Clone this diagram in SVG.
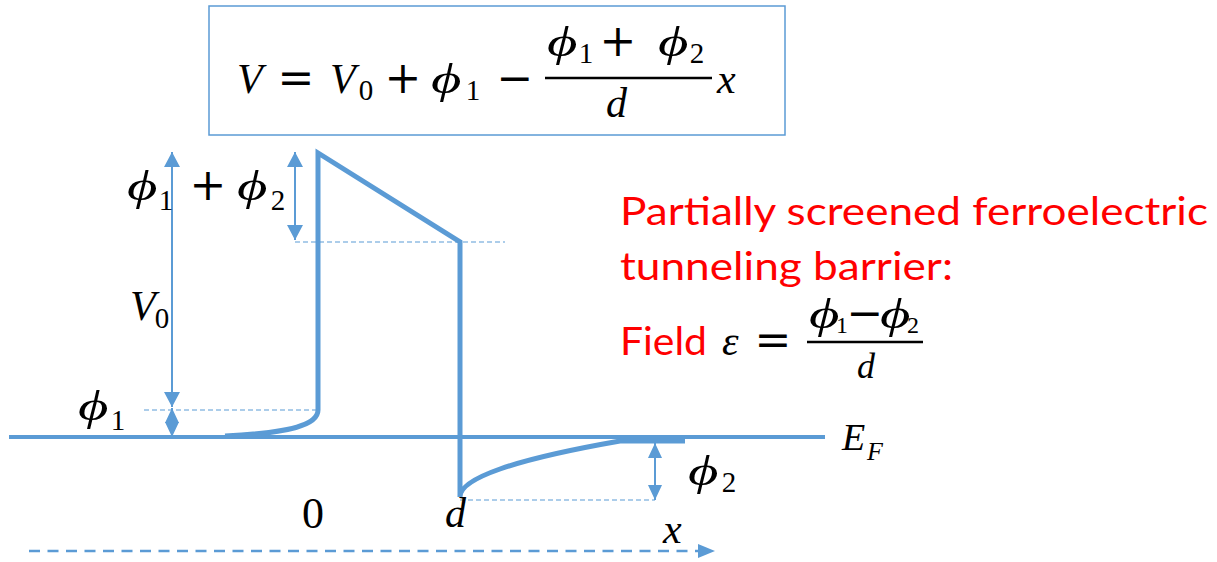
<svg xmlns="http://www.w3.org/2000/svg" width="1217" height="562" viewBox="0 0 1217 562">
<style>
.m{font-family:"Liberation Serif","DejaVu Serif",serif;fill:#000}
.op{font-family:"DejaVu Serif",serif;fill:#000;font-size:44px}
.ph{font-family:"Liberation Serif","DejaVu Serif",serif;font-style:italic;fill:#000;font-size:42px}
.i{font-style:italic}
.big{font-size:42px}
.sub{font-size:29px;text-anchor:middle}
.red{font-family:Lato,"Liberation Sans",sans-serif;font-size:39px;fill:#FF0000}
.band{fill:none;stroke:#5B9BD5;stroke-width:5}
.ef{fill:none;stroke:#5B9BD5;stroke-width:4}
.dash{fill:none;stroke:#5B9BD5;stroke-width:1.2;stroke-dasharray:5 3}
.dim{fill:none;stroke:#5B9BD5;stroke-width:2}
.bar{stroke:#000;stroke-width:2.5}
</style>
<defs>
<marker id="ah" viewBox="0 0 15 16" markerWidth="15" markerHeight="16" refX="15" refY="8" markerUnits="userSpaceOnUse" orient="auto-start-reverse">
<path d="M0,0 L15,8 L0,16 Z" fill="#5B9BD5"/>
</marker>
<marker id="ahs" viewBox="0 0 15 14" markerWidth="15" markerHeight="14" refX="15" refY="7" markerUnits="userSpaceOnUse" orient="auto-start-reverse">
<path d="M0,0 L15,7 L0,14 Z" fill="#5B9BD5"/>
</marker>
<marker id="ax" viewBox="0 0 17 14" markerWidth="17" markerHeight="14" refX="0" refY="7" markerUnits="userSpaceOnUse" orient="auto">
<path d="M0,0 L17,7 L0,14 Z" fill="#5B9BD5"/>
</marker>
</defs>

<g id="equation-box">
<rect x="209" y="6" width="576" height="129" fill="none" stroke="#5B9BD5" stroke-width="1.5"/>
<text class="m i big" x="237" y="93">V</text>
<text class="op" x="296" y="93" text-anchor="middle">=</text>
<text class="m i big" x="330" y="93">V</text>
<text class="m sub" x="366" y="100">0</text>
<text class="op" x="403" y="93" text-anchor="middle">+</text>
<text class="ph" transform="matrix(1.4 0 0 1 431 93)">ϕ</text>
<text class="m sub" x="473" y="100">1</text>
<text class="op" x="515" y="93" text-anchor="middle">−</text>
<text class="ph" transform="matrix(1.4 0 0 1 547 56)">ϕ</text>
<text class="m sub" x="586" y="63">1</text>
<text class="op" x="618" y="56" text-anchor="middle">+</text>
<text class="ph" transform="matrix(1.4 0 0 1 658 56)">ϕ</text>
<text class="m sub" x="697" y="63">2</text>
<line class="bar" x1="545" y1="78" x2="712" y2="78"/>
<text class="m i big" x="606" y="117">d</text>
<text class="m i big" x="717" y="93">x</text>
</g>

<g id="fermi-level">
<line class="ef" x1="9" y1="437" x2="825" y2="437"/>
<text class="m i" font-size="38" x="842" y="450">E</text>
<text class="m i" font-size="26" x="867" y="460">F</text>
</g>

<g id="barrier">
<path class="band" d="M225,436 C290,433 318,425 318,410 L318,153 L460,242 L460,497 Q460,469 620,441 L685,441"/>
</g>

<g id="guides">
<line class="dash" x1="295" y1="242" x2="505" y2="242"/>
<line class="dash" x1="144" y1="410" x2="318" y2="410"/>
<line class="dash" x1="460" y1="500" x2="655" y2="500"/>
</g>

<g id="connectors">
<line class="dim" x1="172" y1="152" x2="172" y2="407" marker-start="url(#ah)" marker-end="url(#ah)"/>
<line class="dim" x1="172" y1="408" x2="172" y2="437" marker-start="url(#ahs)" marker-end="url(#ahs)"/>
<line class="dim" x1="295" y1="152" x2="295" y2="240" marker-start="url(#ah)" marker-end="url(#ah)"/>
<line class="dim" x1="655" y1="443" x2="655" y2="500" marker-start="url(#ahs)" marker-end="url(#ahs)"/>
<line x1="29" y1="551" x2="698" y2="551" stroke="#5B9BD5" stroke-width="2.5" stroke-dasharray="11 7.5" marker-end="url(#ax)"/>
</g>

<g id="labels">
<text class="ph" transform="matrix(1.4 0 0 1 127 200)">ϕ</text>
<text class="m sub" x="166" y="210">1</text>
<text class="op" x="208" y="200" text-anchor="middle">+</text>
<text class="ph" transform="matrix(1.4 0 0 1 237 200)">ϕ</text>
<text class="m sub" x="278" y="210">2</text>
<text class="m i big" x="130" y="320">V</text>
<text class="m sub" x="162" y="328">0</text>
<text class="ph" transform="matrix(1.4 0 0 1 78 420)">ϕ</text>
<text class="m sub" x="118" y="430">1</text>
<text class="ph" transform="matrix(1.4 0 0 1 688 485)">ϕ</text>
<text class="m sub" x="729" y="492">2</text>
<text class="m" font-size="44" x="302" y="528">0</text>
<text class="m i big" x="445" y="527">d</text>
<text class="m i big" x="663" y="543">x</text>
</g>

<g id="caption">
<text class="red" x="620" y="225" textLength="588" lengthAdjust="spacingAndGlyphs">Partially screened ferroelectric</text>
<text class="red" x="620" y="280" textLength="333" lengthAdjust="spacingAndGlyphs">tunneling barrier:</text>
<text class="red" x="620" y="355" textLength="87" lengthAdjust="spacingAndGlyphs">Field</text>
<text class="m i big" x="722" y="355">ε</text>
<text class="op" x="773" y="355" text-anchor="middle">=</text>
<text class="ph" font-size="34" transform="matrix(1.4 0 0 1 809 328)">ϕ</text>
<text class="m" font-size="24" text-anchor="middle" x="842" y="333">1</text>
<text class="op" font-size="30" x="865" y="328" text-anchor="middle">−</text>
<text class="ph" font-size="34" transform="matrix(1.4 0 0 1 880 328)">ϕ</text>
<text class="m" font-size="24" text-anchor="middle" x="913" y="333">2</text>
<line class="bar" x1="807" y1="342" x2="923" y2="342"/>
<text class="m i" font-size="36" x="857" y="378">d</text>
</g>
</svg>
